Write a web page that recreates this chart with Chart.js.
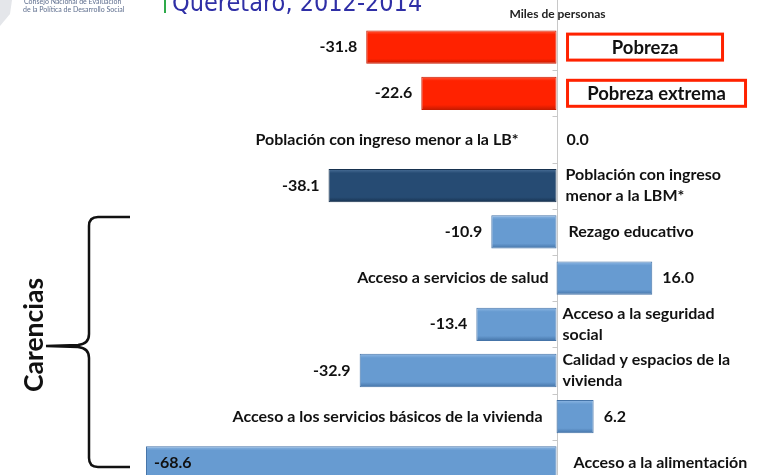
<!DOCTYPE html>
<html>
<head>
<meta charset="utf-8">
<script src="https://cdn.jsdelivr.net/npm/chart.js@4.4.1/dist/chart.umd.min.js"></script>
<style>
  html, body { margin: 0; padding: 0; background: #fff; overflow: hidden; }
  #wrap { position: relative; width: 757px; height: 490px; }
</style>
</head>
<body>
<div id="wrap"><canvas id="chart"></canvas></div>
<script>
// Variación 2012-2014, miles de personas
var categories = [
    'Pobreza',
    'Pobreza extrema',
    'Población con ingreso menor a la LB*',
    'Población con ingreso menor a la LBM*',
    'Rezago educativo',
    'Acceso a servicios de salud',
    'Acceso a la seguridad social',
    'Calidad y espacios de la vivienda',
    'Acceso a los servicios básicos de la vivienda',
    'Acceso a la alimentación'
];
var values = [-31.8, -22.6, 0.0, -38.1, -10.9, 16.0, -13.4, -32.9, 6.2, -68.6];
var barGroups = ['pobreza', 'pobreza', 'ingreso', 'ingreso', 'carencia', 'carencia', 'carencia', 'carencia', 'carencia', 'carencia'];
// how the category text is split
var labelLines = [
    ['Pobreza'],
    ['Pobreza extrema'],
    ['Población con ingreso menor a la LB*'],
    ['Población con ingreso', 'menor a la LBM*'],
    ['Rezago educativo'],
    ['Acceso a servicios de salud'],
    ['Acceso a la seguridad', 'social'],
    ['Calidad y espacios de la', 'vivienda'],
    ['Acceso a los servicios básicos de la vivienda'],
    ['Acceso a la alimentación']
];
var boxedLabels = [0, 1];

var palette = {
    pobreza: ['#ff5a3c', '#ff2200', '#c81a00'],
    ingreso: ['#4a6f98', '#264b73', '#17324f'],
    carencia: ['#8fb8e4', '#679bd1', '#4574a8']
};

var FONT = 'Lato, "Open Sans", sans-serif';
// gap between the zero axis and each category label (manual placement like the slide)
var labelGap = [11, 11, 38, 9, 12, 8, 6, 6, 14, 17];

function barFill(ctx) {
    var chart = ctx.chart;
    var cols = palette[barGroups[ctx.dataIndex]];
    var ys = chart.scales.y;
    if (!ys || !chart.chartArea) return cols[1];
    var y = ys.getPixelForValue(ctx.dataIndex);
    var h = 33;
    if (!isFinite(y)) return cols[1];
    var g = chart.ctx.createLinearGradient(0, y - h / 2, 0, y + h / 2);
    g.addColorStop(0, cols[0]);
    g.addColorStop(0.12, cols[1]);
    g.addColorStop(0.85, cols[1]);
    g.addColorStop(1, cols[2]);
    return g;
}

var decorPlugin = {
    id: 'decor',
    beforeDatasetsDraw: function(chart) {
        var c = chart.ctx;
        var xs = chart.scales.x, ys = chart.scales.y;
        var x0 = Math.round(xs.getPixelForValue(0)) + 0.5;
        c.save();
        // zero axis
        c.strokeStyle = '#c8c8c8';
        c.lineWidth = 1;
        c.beginPath();
        c.moveTo(x0, 0);
        c.lineTo(x0, chart.height);
        c.stroke();
        // tick marks between categories
        for (var i = 0; i < categories.length - 1; i++) {
            var yb = Math.round((ys.getPixelForValue(i) + ys.getPixelForValue(i + 1)) / 2) + 0.5;
            c.beginPath();
            c.moveTo(x0 - 5, yb);
            c.lineTo(x0, yb);
            c.stroke();
        }
        c.restore();
    },
    afterDatasetsDraw: function(chart) {
        var c = chart.ctx;
        var xs = chart.scales.x;
        var x0 = xs.getPixelForValue(0);
        var bars = chart.getDatasetMeta(0).data;
        c.save();
        c.textBaseline = 'middle';

        bars.forEach(function(bar, i) {
            var v = values[i];
            var txt = v.toFixed(1);
            var y = bar.y;
            c.font = 'bold 16px ' + FONT;
            c.fillStyle = '#111';
            if (i === bars.length - 1) {
                // longest bar: value sits inside
                c.textAlign = 'left';
                c.fillText(txt, bar.x + 8, y);
            } else if (v < 0) {
                c.textAlign = 'right';
                c.fillText(txt, bar.x - 9, y);
            } else {
                c.textAlign = 'left';
                c.fillText(txt, Math.max(bar.x, x0) + 10, y);
            }

            // category text
            var lines = labelLines[i];
            var gap = labelGap[i];
            if (boxedLabels.indexOf(i) >= 0) {
                c.font = 'bold 18.5px ' + FONT;
                var w = i === 0 ? 155 : 178;
                var bx = x0 + gap;
                c.strokeStyle = '#ff2200';
                c.lineWidth = 3;
                c.fillStyle = '#fff';
                c.fillRect(bx, y - 13, w, 26);
                c.strokeRect(bx, y - 13, w, 26);
                c.fillStyle = '#111';
                c.textAlign = 'center';
                c.fillText(lines[0], bx + w / 2, y + 1);
            } else if (v >= 0) {
                c.font = 'bold 16px ' + FONT;
                c.textAlign = 'right';
                c.fillText(lines[0], x0 - gap, y);
            } else {
                c.font = 'bold 16px ' + FONT;
                c.textAlign = 'left';
                var lh = 21;
                var top = y - (lines.length - 1) * lh / 2;
                lines.forEach(function(t, k) {
                    c.fillText(t, x0 + gap, top + k * lh);
                });
            }
        });

        // header
        c.fillStyle = '#e4e6ea';
        c.beginPath();
        c.moveTo(0, 0); c.lineTo(12, 0); c.lineTo(10, 14); c.lineTo(0, 26);
        c.closePath();
        c.fill();
        c.fillStyle = '#5f6f8f';
        c.font = '7px ' + FONT;
        c.textAlign = 'left';
        c.textBaseline = 'alphabetic';
        c.fillText('Consejo Nacional de Evaluación', 24, 4);
        c.fillText('de la Política de Desarrollo Social', 23, 12);
        c.fillStyle = '#2eaa4a';
        c.fillRect(164, 0, 2, 13);
        c.fillStyle = '#2f2fa6';
        c.font = '25px "DejaVu Sans Condensed", "DejaVu Sans", sans-serif';
        c.fillText('Querétaro, 2012-2014', 172, 11);

        c.fillStyle = '#222';
        c.font = 'bold 12px ' + FONT;
        c.textAlign = 'center';
        c.fillText('Miles de personas', x0 + 1, 18);

        // brace for carencias
        c.strokeStyle = '#111';
        c.lineWidth = 2.5;
        c.beginPath();
        c.moveTo(130, 217);
        c.lineTo(98, 217);
        c.quadraticCurveTo(89, 217, 89, 226);
        c.lineTo(89, 334);
        c.quadraticCurveTo(89, 344, 78, 345);
        c.lineTo(46, 346);
        c.lineTo(78, 347);
        c.quadraticCurveTo(89, 348, 89, 358);
        c.lineTo(89, 458);
        c.quadraticCurveTo(89, 467, 98, 467);
        c.lineTo(130, 467);
        c.stroke();

        c.translate(34, 335);
        c.rotate(-Math.PI / 2);
        c.fillStyle = '#111';
        c.font = 'bold 26.5px ' + FONT;
        c.textAlign = 'center';
        c.textBaseline = 'middle';
        c.fillText('Carencias', 0, 0);
        c.restore();
    }
};

new Chart(document.getElementById('chart'), {
    type: 'bar',
    data: {
        labels: categories,
        datasets: [{
            data: values,
            backgroundColor: barFill,
            borderColor: function(ctx) { return palette[barGroups[ctx.dataIndex]][2]; },
            borderWidth: 1,
            borderSkipped: false,
            barPercentage: 0.72,
            categoryPercentage: 1
        }]
    },
    options: {
        indexAxis: 'y',
        responsive: true,
        maintainAspectRatio: false,
        animation: false,
        layout: { padding: { top: 24, bottom: 4, left: 0, right: 0 } },
        scales: {
            x: { display: false, min: -93, max: 33.5 },
            y: { display: false }
        },
        plugins: {
            legend: { display: false },
            tooltip: { enabled: false }
        }
    },
    plugins: [decorPlugin]
});
</script>
</body>
</html>
